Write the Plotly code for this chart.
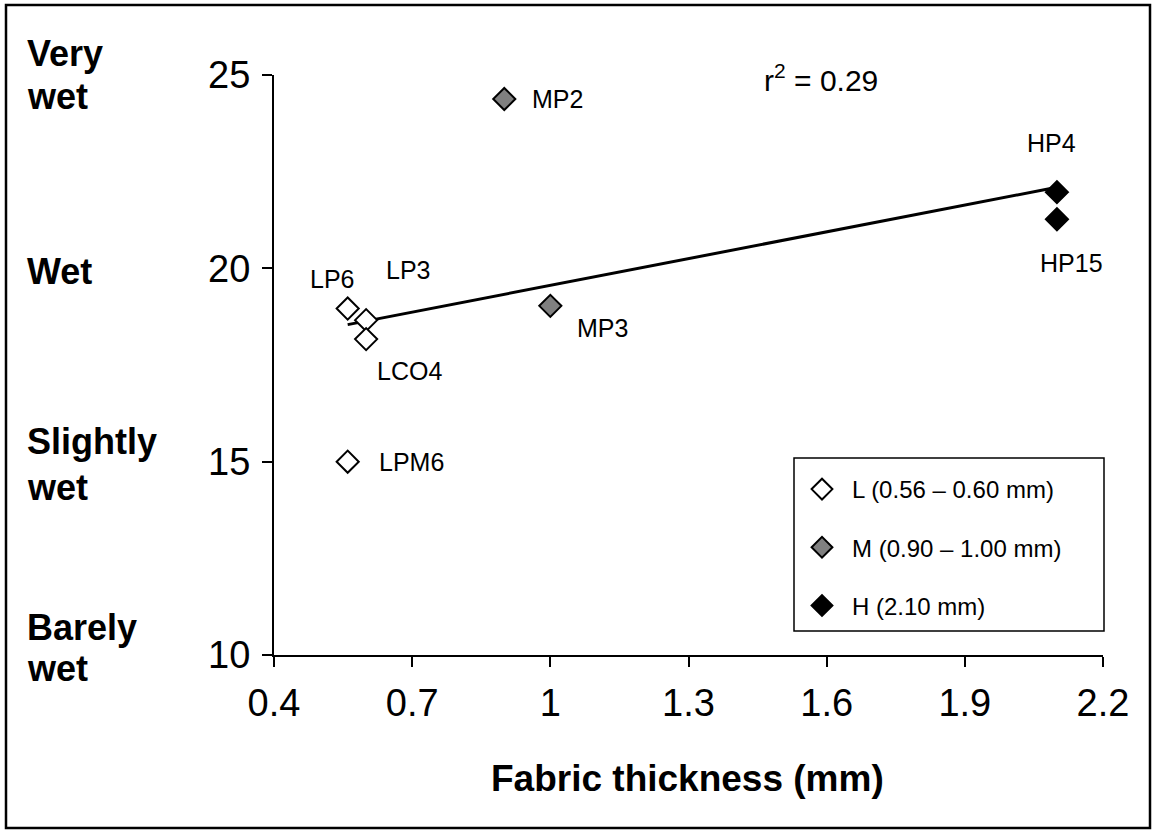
import numpy as np
import plotly.graph_objects as go

# ---------------- data ----------------
names = ["LP6", "LP3", "LCO4", "LPM6", "MP2", "MP3", "HP4", "HP15"]
thickness = [0.56, 0.60, 0.60, 0.56, 0.90, 1.00, 2.10, 2.10]
wetness = [18.96, 18.66, 18.17, 15.0, 24.38, 19.03, 21.97, 21.27]
groups = ["L", "L", "L", "L", "M", "M", "H", "H"]

group_keys = ["L", "M", "H"]
group_labels = ["L (0.56 – 0.60 mm)", "M (0.90 – 1.00 mm)", "H (2.10 mm)"]
group_colors = ["#ffffff", "#808080", "#000000"]

x_ticks = [0.4, 0.7, 1.0, 1.3, 1.6, 1.9, 2.2]
x_tick_labels = ["0.4", "0.7", "1", "1.3", "1.6", "1.9", "2.2"]
y_ticks = [10, 15, 20, 25]
y_tick_labels = ["10", "15", "20", "25"]

category_ticks = [25, 20, 15, 10]
category_lines = [["Very", "wet"], ["Wet"], ["Slightly", "wet"], ["Barely", "wet"]]

x_title = "Fabric thickness (mm)"
r2_text = "r<sup>2</sup> = 0.29"

# label offsets in pixels (dx right, dy up)
label_dx = [-16, 42, 43, 64, 53, 52, -5, 15]
label_dy = [30, 50, -32, 0, 0, -22, 49, -44]
# category label line offsets (pixels, up positive)
category_dy = [[22, -21], [-3], [20, -26], [28, -13]]

# ---------------- layout geometry ----------------
W, H = 1156, 833
ML, MR, MT, MB = 274, 53, 75, 178
PW, PH = W - ML - MR, H - MT - MB
FONT = "Liberation Sans, Arial, sans-serif"


def px_x(px):
    return (px - ML) / PW


def px_y(py):
    return (H - MB - py) / PH


fig = go.Figure()

# trend line from least squares fit
coef = np.polyfit(thickness, wetness, 1)
x_line = np.array([min(thickness), max(thickness)])
fig.add_trace(go.Scatter(
    x=x_line, y=np.polyval(coef, x_line), mode="lines",
    line=dict(color="black", width=3), showlegend=False, hoverinfo="skip"))

for key, lab, col in zip(group_keys, group_labels, group_colors):
    xs = [x for x, g in zip(thickness, groups) if g == key]
    ys = [y for y, g in zip(wetness, groups) if g == key]
    fig.add_trace(go.Scatter(
        x=xs, y=ys, mode="markers", name=lab, legendgroup=key,
        marker=dict(symbol="diamond", size=17, color=col,
                    line=dict(color="black", width=2))))

annotations = []
for n, x, y, dx, dy in zip(names, thickness, wetness, label_dx, label_dy):
    annotations.append(dict(
        x=x, y=y, xref="x", yref="y", text=n, showarrow=False,
        xshift=dx, yshift=dy, font=dict(family=FONT, size=25, color="black")))

for t, lines, dys in zip(category_ticks, category_lines, category_dy):
    for line, dy in zip(lines, dys):
        annotations.append(dict(
            x=px_x(25), xref="paper", y=t, yref="y", yshift=dy, text="<b>%s</b>" % line,
            showarrow=False, xanchor="left", yanchor="middle",
            font=dict(family=FONT, size=36, color="black")))

annotations.append(dict(
    x=px_x(821), y=px_y(78), xref="paper", yref="paper", text=r2_text, showarrow=False,
    xanchor="center", yanchor="middle",
    font=dict(family=FONT, size=30, color="black")))

annotations.append(dict(
    x=px_x(687), y=px_y(778), xref="paper", yref="paper", text="<b>%s</b>" % x_title,
    showarrow=False, xanchor="center", yanchor="middle",
    font=dict(family=FONT, size=37, color="black")))

shapes = [
    dict(type="rect", xref="paper", yref="paper",
         x0=px_x(6), x1=px_x(1150), y0=px_y(828), y1=px_y(5),
         line=dict(color="black", width=2.5), fillcolor="rgba(0,0,0,0)"),
    dict(type="rect", xref="paper", yref="paper",
         x0=px_x(794), x1=px_x(1104), y0=px_y(631), y1=px_y(458),
         line=dict(color="black", width=1.5), fillcolor="rgba(0,0,0,0)"),
]

axis_common = dict(
    showline=True, linecolor="black", linewidth=2, ticks="outside", ticklen=10,
    tickwidth=2, tickcolor="black", showgrid=False, zeroline=False,
    tickfont=dict(family=FONT, size=38, color="black"))

fig.update_layout(
    width=W, height=H,
    margin=dict(l=ML, r=MR, t=MT, b=MB, pad=0),
    paper_bgcolor="white", plot_bgcolor="white",
    xaxis=dict(range=[0.4, 2.2], tickvals=x_ticks, ticktext=x_tick_labels,
               ticklabelstandoff=3, **axis_common),
    yaxis=dict(range=[10, 25], tickvals=y_ticks, ticktext=y_tick_labels,
               ticklabelstandoff=4, **axis_common),
    legend=dict(x=px_x(792), y=px_y(467), xanchor="left", yanchor="top",
                bgcolor="rgba(0,0,0,0)", borderwidth=0, tracegroupgap=24,
                itemwidth=50,
                font=dict(family=FONT, size=24, color="black")),
    annotations=annotations, shapes=shapes, showlegend=True,
)

fig.write_html("out.html", config={"displayModeBar": False},
               post_script="document.body.style.margin='0';")
